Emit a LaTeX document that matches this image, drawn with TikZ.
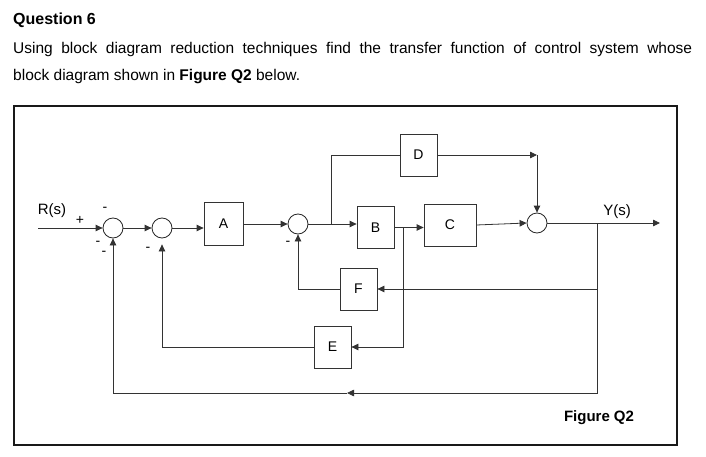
\documentclass[tikz,border=0pt]{standalone}
\usepackage{fontspec}
\setmainfont{Liberation Sans}
\usetikzlibrary{calc}
\usetikzlibrary{arrows.meta}
\tikzset{
  blk/.style={draw=black!80, line width=0.8pt, rectangle, minimum width=37pt, minimum height=42pt, inner sep=0pt, font=\fontsize{14}{14}\selectfont},
  sumj/.style={draw=black!85, line width=0.8pt, circle, minimum size=20pt, inner sep=0pt},
  sig/.style={inner sep=0pt, font=\fontsize{14}{14}\selectfont},
  wire/.style={line width=0.8pt, draw=black!80},
  flow/.style={wire, -{Triangle[length=7pt,width=6.5pt]}},
}

\begin{document}
\begin{tikzpicture}[x=1pt,y=-1pt]
  \useasboundingbox (0,0) rectangle (706,457);
  %question
  \node[anchor=base west, inner sep=0pt, font=\fontsize{16}{18}\selectfont\bfseries] (qhead) at (13,25) {Question 6};
  \node[anchor=north west, inner sep=0pt, text width=679pt, align=justify, font=\fontsize{15.5}{27}\selectfont] (qtext) at (13,42)
    {Using block diagram reduction techniques find the transfer function of control system whose\linebreak block diagram shown in \textbf{Figure Q2} below.};
  \draw[line width=1.3pt, black!90] (14,106) rectangle (677,445);

  %blocks and summing points
  \node[sumj] (s1) at (113,228) {};
  \node[sumj] (s2) at (162,228) {};
  \node[blk, minimum width=39pt, minimum height=43pt] (a) at (223.5,224) {A};
  \node[sumj] (s3) at (298,224) {};
  \node[blk] (b) at (375.5,227.5) {B};
  \node[blk, minimum width=52pt] (c) at (450,225) {C};
  \node[blk] (d) at (418.5,155) {D};
  \node[sumj] (s4) at (537,223) {};
  \node[blk] (f) at (358.5,289) {F};
  \node[blk] (e) at (332.5,347) {E};

  \coordinate (rin) at (38,228);
  \coordinate (yout) at (660,223);
  \coordinate (t1) at (331,224);
  \coordinate (t2) at (403,227.5);
  \coordinate (t3) at (597,223);
  \coordinate (dend) at (s4.north |- d.east);
  \coordinate (s2tip) at ($(s2.south)+(0,6)$);
  \coordinate (botmid) at (347,393);

  %forward path
  \draw[flow] (rin) -- (s1.west);
  \draw[flow] (s1) -- (s2);
  \draw[flow] (s2.east) -- (s2.east -| a.west);
  \draw[flow] (a.east) -- (s3.west);
  \draw[flow] (s3.east) -- (s3.east -| b.west);
  \draw[flow] (b.east) -- (b.east -| c.west);
  \draw[flow] (c.east) -- (s4.west);
  \draw[flow] (s4.east) -- (yout);
  %feed forward through D
  \draw[wire] (t1) |- (d.west);
  \draw[flow] (d.east) -- (dend);
  \draw[flow] (dend) -- (s4.north);
  %feedback loops
  \draw[flow] (t3) |- (f.east);
  \draw[flow] (f.west) -| (s3.south);
  \draw[flow] (t2) |- (e.east);
  \draw[flow] (e.west) -| (s2tip);
  \draw[flow] (t3) |- (botmid);
  \draw[flow] (botmid) -| (s1.south);

  %labels
  \node[sig, font=\fontsize{15}{15}\selectfont] (rlab) at (52,211) {R(s)};
  \node[sig, font=\fontsize{15}{15}\selectfont] (ylab) at (617,212) {Y(s)};
  \node[sig, font=\fontsize{15}{15}\selectfont\bfseries] (figlab) at (599,418) {Figure Q2};
  \node[sig] (plus) at (80,220) {+};
  \foreach \x/\y [count=\i] in {105/209, 98/243, 104/253, 148/249, 288/243}
    \node[sig] (minus\i) at (\x,\y) {-};
\end{tikzpicture}
\end{document}
